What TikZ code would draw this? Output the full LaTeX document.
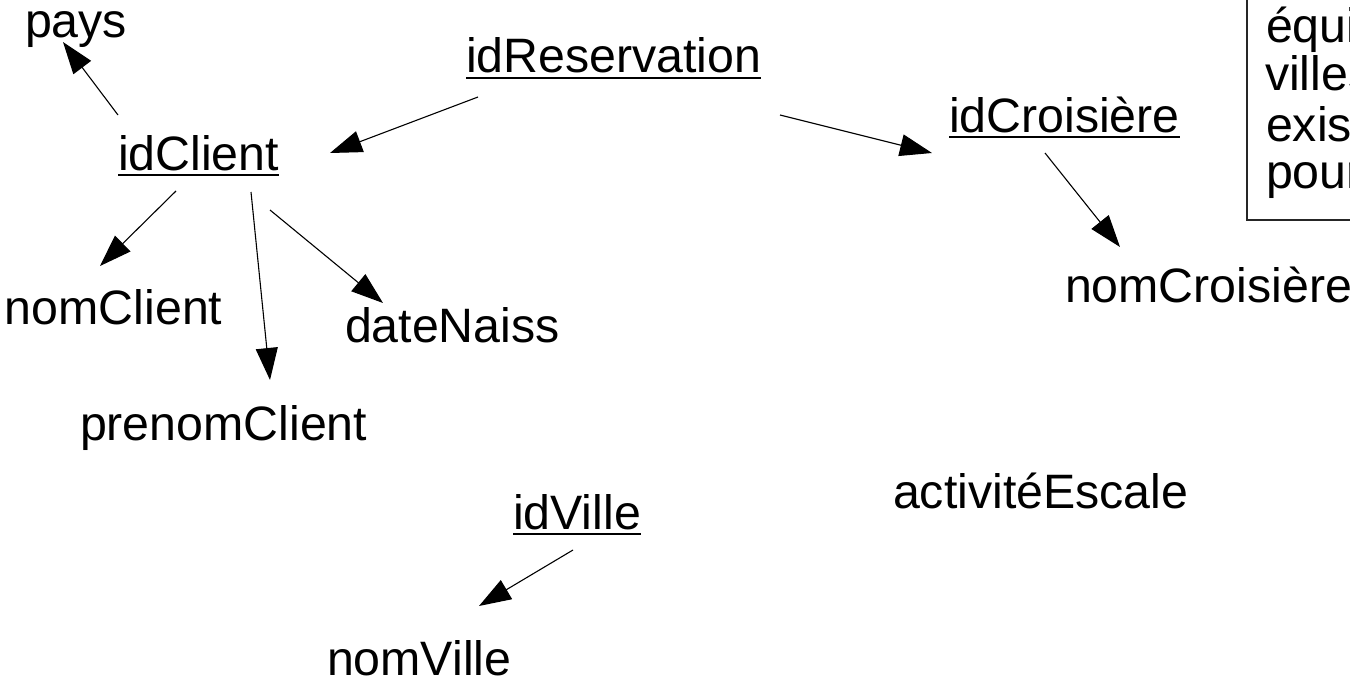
\documentclass[tikz,border=0pt]{standalone}
\usepackage{fontspec}
\setmainfont{Liberation Sans}
\usetikzlibrary{arrows.meta}

\tikzset{
  attr/.style={inner sep=0pt, outer sep=0pt, anchor=base west,
    font=\fontsize{48.3}{55}\selectfont},
  keyline/.style={line width=2.6pt},
  link/.style={line width=1.1pt, -{Triangle[length=32pt,width=22pt]}},
  notebox/.style={line width=1.1pt, draw=black!85}
}

\newcommand{\keyunder}[1]{%
  \draw[keyline] ([yshift=-5pt]#1.base west) -- ([yshift=-5pt]#1.base east);}

\begin{document}
\begin{tikzpicture}[x=1pt,y=-1pt]
  \useasboundingbox (0,0) rectangle (1350,685);
  \clip (0,0) rectangle (1350,685);

  % attributes
  \node[attr] (pays)   at (25,38)   {pays};
  \node[attr] (res)    at (466,73)  {idReservation};
  \node[attr] (cli)    at (118,170) {idClient};
  \node[attr] (cro)    at (949,132) {idCroisière};
  \node[attr] (nomcli) at (5,324)   {nomClient};
  \node[attr] (date)   at (345,342) {dateNaiss};
  \node[attr] (pre)    at (80,440)  {prenomClient};
  \node[attr] (nomcro) at (1065,302){nomCroisière};
  \node[attr] (act)    at (893,508) {activitéEscale};
  \node[attr] (vil)    at (513,529) {idVille};
  \node[attr] (nomvil) at (327,675) {nomVille};

  % identifiers are underlined
  \keyunder{res}
  \keyunder{cli}
  \keyunder{cro}
  \keyunder{vil}

  % note in the upper right corner
  \draw[notebox] (1247,-10) rectangle (1420,220);
  \node[attr] (n1) at (1266,43)  {équi};
  \node[attr] (n2) at (1265,91)  {villes};
  \node[attr] (n3) at (1266,141) {exis};
  \node[attr] (n4) at (1266,188) {pour};

  % functional dependencies
  \draw[link] ([shift={(0,-55)}]cli.base west)   -- ([shift={(38,4)}]pays.base west);
  \draw[link] ([shift={(12,24)}]res.base west)   -- ([shift={(212,-17)}]cli.base west);
  \draw[link] ([shift={(314,42)}]res.base west)  -- ([shift={(-17,21)}]cro.base west);
  \draw[link] ([shift={(96,21)}]cro.base west)   -- ([shift={(55,-55)}]nomcro.base west);
  \draw[link] ([shift={(58,21)}]cli.base west)   -- ([shift={(95,-58)}]nomcli.base west);
  \draw[link] ([shift={(133,22)}]cli.base west)  -- ([shift={(190,-60)}]pre.base west);
  \draw[link] ([shift={(152,40)}]cli.base west)  -- ([shift={(38,-39)}]date.base west);
  \draw[link] ([shift={(60,21)}]vil.base west)   -- ([shift={(152,-69)}]nomvil.base west);
\end{tikzpicture}
\end{document}
